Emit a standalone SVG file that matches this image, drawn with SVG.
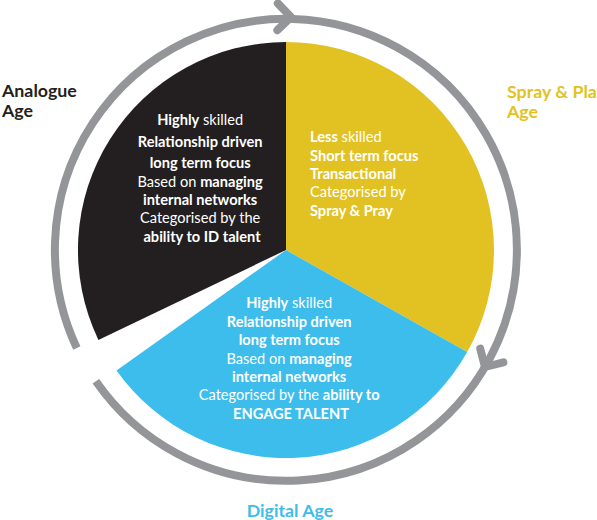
<svg xmlns="http://www.w3.org/2000/svg" width="597" height="520" viewBox="0 0 597 520">
<style>
text{font-family:Lato,"Open Sans","Liberation Sans",sans-serif;}
.w{fill:#ffffff;font-size:14.6px;}
.b{font-weight:700;}
.lbl{font-size:17.8px;font-weight:700;}
.ring{fill:none;stroke:#939598;stroke-width:8;}
.chev{fill:none;stroke:#939598;stroke-width:8;stroke-linecap:round;stroke-linejoin:round;}
</style>
<defs>
<path id="chevron" d="M-13.4,-13.4 L0,0 L-13.4,13.4"/>
</defs>
<rect width="597" height="520" fill="#ffffff"/>
<g id="connectors">
<path class="ring" d="M76.8,348 A231,231 0 1 1 95.9,381.2"/>
<use href="#chevron" class="chev" transform="translate(291,17) rotate(1)"/>
<use href="#chevron" class="chev" transform="translate(485,367) rotate(120.5)"/>
</g>
<g id="analogue">
<path d="M286,250 L98.4,339.9 A208,208 0 0 1 286,42 Z" fill="#231f20"/>
<text class="w" text-anchor="middle">
<tspan x="202" y="125"><tspan class="b">Highly</tspan> skilled</tspan>
<tspan x="202" y="147" class="b">Relationship driven</tspan>
<tspan x="202" y="168" class="b">long term focus</tspan>
<tspan x="202" y="187">Based on <tspan class="b">managing</tspan></tspan>
<tspan x="202" y="205" class="b">internal networks</tspan>
<tspan x="202" y="223">Categorised by the</tspan>
<tspan x="202" y="242" class="b">ability to ID talent</tspan>
</text>
</g>
<g id="spray">
<path d="M286,250 L286,42 A208,208 0 0 1 467.2,352.1 Z" fill="#e2c223"/>
<text class="w">
<tspan x="310" y="142"><tspan class="b">Less</tspan> skilled</tspan>
<tspan x="310" y="161" class="b">Short term focus</tspan>
<tspan x="310" y="179" class="b">Transactional</tspan>
<tspan x="310" y="197">Categorised by</tspan>
<tspan x="310" y="216" class="b">Spray &amp; Pray</tspan>
</text>
</g>
<g id="digital">
<path d="M286,250 L467.2,352.1 A208,208 0 0 1 116.5,370.5 Z" fill="#3dbdec"/>
<text class="w" text-anchor="middle">
<tspan x="291" y="308"><tspan class="b">Highly</tspan> skilled</tspan>
<tspan x="291" y="327" class="b">Relationship driven</tspan>
<tspan x="291" y="345" class="b">long term focus</tspan>
<tspan x="291" y="364">Based on <tspan class="b">managing</tspan></tspan>
<tspan x="291" y="382" class="b">internal networks</tspan>
<tspan x="291" y="400">Categorised by the <tspan class="b">ability to</tspan></tspan>
<tspan x="291" y="419" class="b">ENGAGE TALENT</tspan>
</text>
</g>
<g id="labels">
<text class="lbl" fill="#231f20"><tspan x="2" y="97">Analogue</tspan><tspan x="2" y="117">Age</tspan></text>
<text class="lbl" fill="#e2c223"><tspan x="507" y="98">Spray &amp; Play</tspan><tspan x="507" y="118">Age</tspan></text>
<text class="lbl" fill="#3dbdec" text-anchor="middle" x="290" y="517">Digital Age</text>
</g>
</svg>
